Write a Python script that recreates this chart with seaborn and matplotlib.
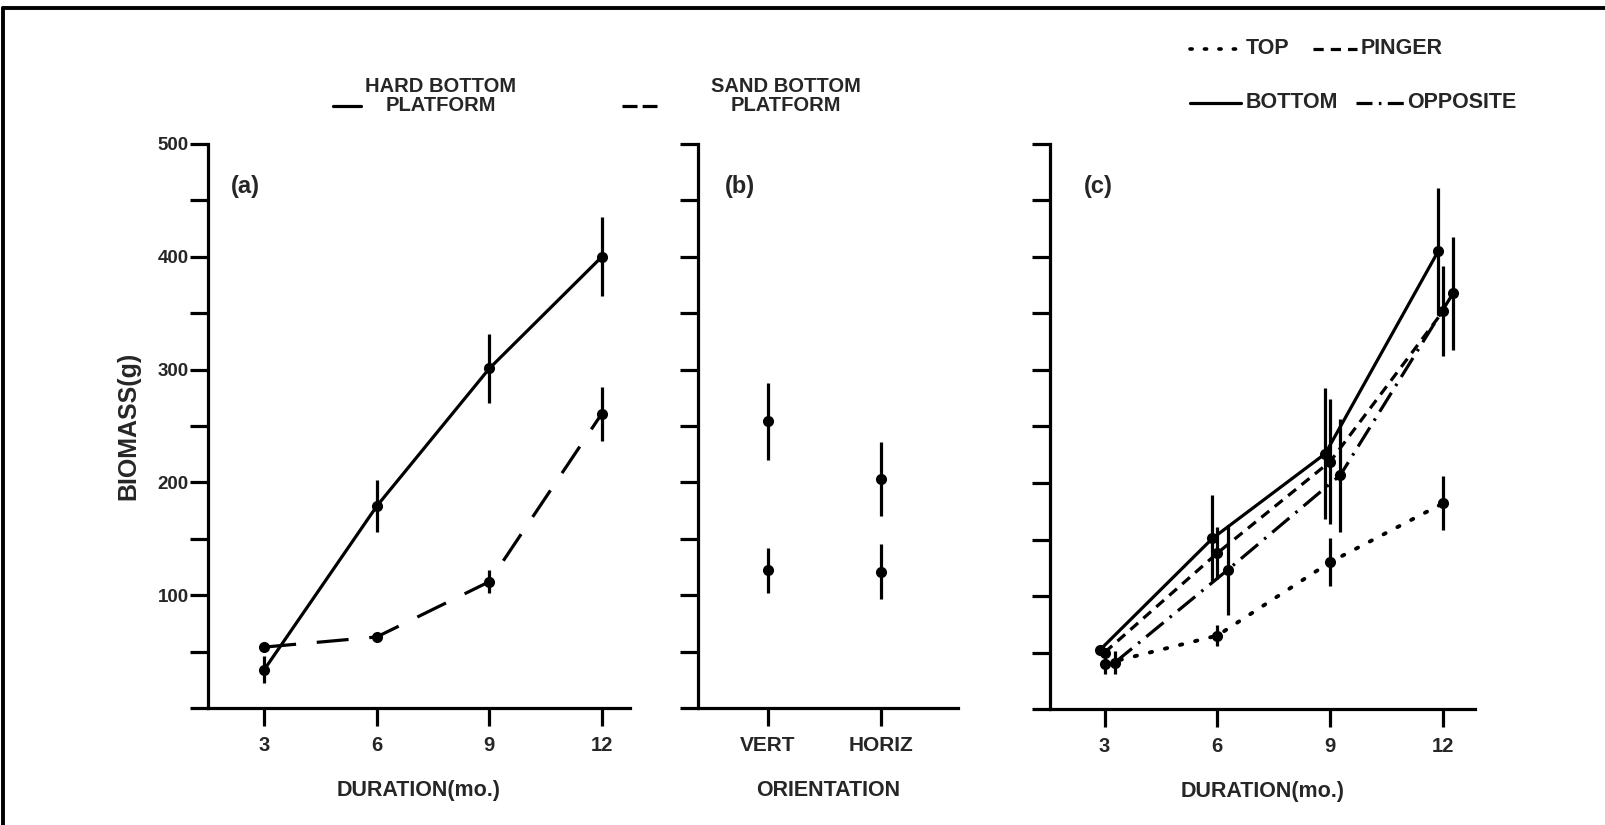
import numpy as np
import pandas as pd
import matplotlib
matplotlib.use("Agg")
import matplotlib.pyplot as plt
from matplotlib.lines import Line2D
from matplotlib.ticker import MultipleLocator, NullFormatter
import seaborn as sns

# (a) biomass vs. deployment duration, by platform type
months = [3, 6, 9, 12]
hard_mean = [34, 179, 301, 400]
hard_se = [12, 23, 31, 35]
sand_mean = [54, 63, 112, 261]
sand_se = [0, 0, 10, 24]

# (b) biomass by plate orientation
orientations = ["VERT", "HORIZ"]
orient_upper_mean = [254, 203]
orient_upper_se = [34, 33]
orient_lower_mean = [122, 121]
orient_lower_se = [20, 24]

# (c) biomass vs. duration, by plate position
top_mean = [40, 65, 130, 182]
top_se = [9, 9, 21, 24]
pinger_mean = [50, 138, 219, 352]
pinger_se = [0, 23, 55, 40]
bottom_mean = [52, 151, 226, 405]
bottom_se = [0, 38, 58, 56]
opposite_mean = [41, 123, 207, 368]
opposite_se = [10, 40, 50, 50]

sns.set_theme(style="ticks")
plt.rcParams["font.family"] = ["Liberation Sans", "DejaVu Sans"]
plt.rcParams["font.weight"] = "bold"

W, H = 1606, 825
fig = plt.figure(figsize=(W / 100, H / 100), dpi=100)
fig.patch.set_facecolor("white")

LW = 2.3
MS = 8
INK = "black"

LS_SOLID = "-"
LS_LONGDASH = (0, (10, 6.5))
LS_DASH = (0, (3.2, 2.2))
LS_DASHDOT = (0, (7, 2.5, 0.8, 2.5))
LS_DOT = (0, (0.6, 3.4))


def px_axes(left, right, top, bottom):
    return fig.add_axes([left / W, 1 - bottom / H, (right - left) / W, (bottom - top) / H])


def style_axes(ax, labelled_y):
    for side in ("top", "right"):
        ax.spines[side].set_visible(False)
    for side in ("left", "bottom"):
        ax.spines[side].set_linewidth(LW)
        ax.spines[side].set_color(INK)
    ax.set_ylim(0, 500)
    ax.set_yticks(np.arange(100, 501, 100))
    ax.yaxis.set_minor_locator(MultipleLocator(50))
    ax.yaxis.set_minor_formatter(NullFormatter())
    ax.tick_params(axis="y", which="both", direction="out", length=13, width=LW,
                   color=INK, pad=1, labelsize=13.5)
    ax.tick_params(axis="x", which="both", direction="out", length=13, width=LW,
                   color=INK, pad=7, labelsize=14.5)
    if not labelled_y:
        ax.set_yticklabels([])
    ax.set_facecolor("white")
    ax.grid(False)


def draw_series(ax, x, mean, se, ls, dodge=0.0, lw=LW, capstyle="butt"):
    df = pd.DataFrame({"x": np.asarray(x, float) + dodge, "y": mean})
    sns.lineplot(data=df, x="x", y="y", ax=ax, color=INK, linewidth=lw,
                 linestyle=ls, errorbar=None, sort=False,
                 dash_capstyle=capstyle, legend=False)
    sns.scatterplot(data=df, x="x", y="y", ax=ax, color=INK, s=MS ** 2,
                    edgecolor=INK, linewidth=0, legend=False, zorder=4)
    err = np.asarray(se, float)
    keep = err > 0
    ax.vlines(df["x"][keep], (df["y"] - err)[keep], (df["y"] + err)[keep],
              color=INK, linewidth=LW, zorder=3)


AXLABEL = dict(fontsize=15.5, fontweight="bold", labelpad=18)
PANEL = dict(fontsize=17, fontweight="bold", va="center")

# ---- panel (a)
ax_a = px_axes(208, 630, 144, 708)
draw_series(ax_a, months, hard_mean, hard_se, LS_SOLID)
draw_series(ax_a, months, sand_mean, sand_se, LS_LONGDASH)
style_axes(ax_a, True)
ax_a.set_xlim(1.5, 12.75)
ax_a.set_xticks(months)
ax_a.set_xlabel("DURATION(mo.)", **AXLABEL)
ax_a.set_ylabel("BIOMASS(g)", fontsize=18, fontweight="bold", labelpad=12)
ax_a.text(0.055, 0.925, "(a)", transform=ax_a.transAxes, **PANEL)

# ---- panel (b)
ax_b = px_axes(698, 958, 144, 708)
pos = np.arange(len(orientations))
for mean, se in ((orient_upper_mean, orient_upper_se), (orient_lower_mean, orient_lower_se)):
    dfb = pd.DataFrame({"x": pos, "y": mean})
    sns.scatterplot(data=dfb, x="x", y="y", ax=ax_b, color=INK, s=MS ** 2,
                    linewidth=0, legend=False, zorder=4)
    ax_b.vlines(pos, np.subtract(mean, se), np.add(mean, se), color=INK,
                linewidth=LW, zorder=3)
style_axes(ax_b, False)
ax_b.set_xlim(-0.62, 1.68)
ax_b.set_xticks(pos)
ax_b.set_xticklabels(orientations, fontsize=15)
ax_b.set_xlabel("ORIENTATION", **AXLABEL)
ax_b.set_ylabel("")
ax_b.text(0.105, 0.925, "(b)", transform=ax_b.transAxes, **PANEL)

# ---- panel (c)
ax_c = px_axes(1050, 1475, 144, 709)
draw_series(ax_c, months, bottom_mean, bottom_se, LS_SOLID, dodge=-0.13)
draw_series(ax_c, months, pinger_mean, pinger_se, LS_DASH, dodge=0.0)
draw_series(ax_c, months, opposite_mean, opposite_se, LS_DASHDOT, dodge=0.27)
draw_series(ax_c, months, top_mean, top_se, LS_DOT, dodge=0.0, lw=2.8, capstyle="round")
style_axes(ax_c, False)
ax_c.set_xlim(1.55, 12.85)
ax_c.set_xticks(months)
ax_c.set_xlabel("DURATION(mo.)", **AXLABEL)
ax_c.set_ylabel("")
ax_c.text(0.08, 0.925, "(c)", transform=ax_c.transAxes, **PANEL)


# ---- legends drawn in figure pixels
def key(x0, x1, y, ls, lw=LW, capstyle="butt"):
    fig.add_artist(Line2D([x0 / W, x1 / W], [1 - y / H, 1 - y / H], color=INK,
                          linewidth=lw, linestyle=ls, dash_capstyle=capstyle,
                          transform=fig.transFigure))


def label(x, y, s, size, ha="left"):
    fig.text(x / W, 1 - y / H, s, fontsize=size, fontweight="bold", ha=ha,
             va="center", linespacing=1.05)


key(333, 361, 106, LS_SOLID)
label(441, 96, "HARD BOTTOM\nPLATFORM", 14.5, ha="center")
key(622, 657, 106, (0, (4.7, 1.6)))
label(786, 96, "SAND BOTTOM\nPLATFORM", 14.5, ha="center")

key(1190, 1240, 49, LS_DOT, lw=2.6, capstyle="round")
label(1246, 49, "TOP", 15.5)
key(1313, 1357, 49, LS_DASH)
label(1361, 49, "PINGER", 15.5)
key(1190, 1241, 103, LS_SOLID)
label(1246, 103, "BOTTOM", 15.5)
key(1356, 1404, 103, (0, (5, 2, 0.8, 2)))
label(1407, 103, "OPPOSITE", 15.5)

# figure frame (left and top rules)
fig.add_artist(Line2D([3 / W, 3 / W], [0, 1 - 8 / H], color=INK, linewidth=2.8,
                      transform=fig.transFigure))
fig.add_artist(Line2D([3 / W, 1], [1 - 8 / H, 1 - 8 / H], color=INK, linewidth=2.8,
                      transform=fig.transFigure))

fig.savefig("out.png", dpi=100, facecolor="white")
